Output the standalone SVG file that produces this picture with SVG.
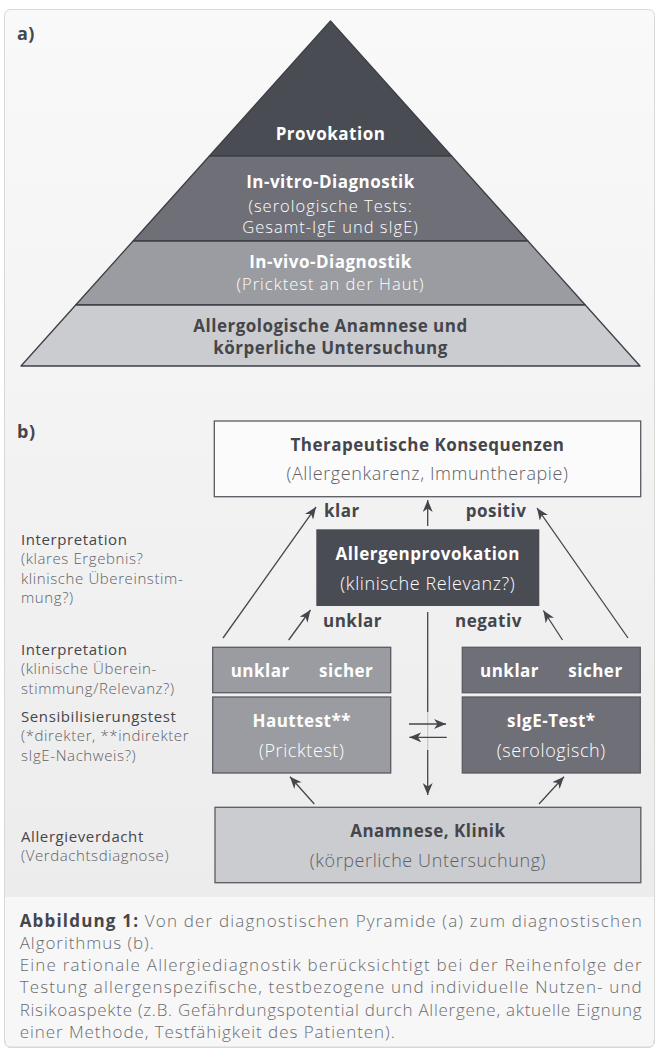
<svg xmlns="http://www.w3.org/2000/svg" width="658" height="1054" viewBox="0 0 658 1054">
<defs>
<linearGradient id="bg" x1="0" y1="0" x2="0" y2="1">
<stop offset="0" stop-color="#f9f9f9"/>
<stop offset="1" stop-color="#eaeaea"/>
</linearGradient>
<marker id="ah" viewBox="0 0 12 10" refX="12" refY="5" markerWidth="12" markerHeight="10" markerUnits="userSpaceOnUse" orient="auto">
<path d="M0,0 L12,5 L0,10 L3.5,5 z" fill="#45464c"/>
</marker>
<style>
text{font-family:"Open Sans","Liberation Sans",sans-serif;}
.b{font-weight:700;letter-spacing:0.5px;}
.l{font-weight:300;}
.w{fill:#ffffff;}
.d{fill:#45464c;}
.g{fill:#5f6066;}
.c{text-anchor:middle;font-size:17px;}
.c.l{font-size:18px;letter-spacing:0.6px;}
.c.l.p{font-size:16.5px;letter-spacing:1px;}
.lab{font-size:15px;letter-spacing:0.6px;}
.lab .d{font-weight:400;letter-spacing:0.6px;}
.cap{font-size:17px;fill:#6a6b70;font-weight:300;}
.lay{stroke:#3e3f46;stroke-width:1.3;stroke-linejoin:round;}
.box{stroke:#5a5b62;stroke-width:1.3;}
.cn{stroke:#45464c;stroke-width:1.3;fill:none;}
</style>
</defs>
<rect x="0" y="0" width="658" height="1054" fill="#ffffff"/>
<rect x="4.5" y="9.5" width="650" height="1038" rx="6" fill="url(#bg)" stroke="#d8d8d8" stroke-width="1"/>
<rect x="5" y="897" width="649" height="150" fill="#f7f7f7"/>
<path d="M5,1040 L5,1041 Q5,1047 11,1047 L648,1047 Q654,1047 654,1041 L654,1040" fill="#f7f7f7" stroke="#d8d8d8" stroke-width="1"/>

<text x="17" y="40" class="b d" font-size="18">a)</text>

<g id="pyramid">
<g id="layer-provokation">
<polygon class="lay" points="330.5,21 451.6,156 209.4,156" fill="#4a4c54"/>
<text x="330.5" y="140" class="c b w">Provokation</text>
</g>
<g id="layer-invitro">
<polygon class="lay" points="209.4,156 451.6,156 527.9,241 133.1,241" fill="#6f6f78"/>
<text x="330.5" y="188" class="c b w">In-vitro-Diagnostik</text>
<text x="330.5" y="212" class="c l p w">(serologische Tests:</text>
<text x="330.5" y="233" class="c l p w">Gesamt-IgE und sIgE)</text>
</g>
<g id="layer-invivo">
<polygon class="lay" points="133.1,241 527.9,241 585.3,305 75.7,305" fill="#9b9ca1"/>
<text x="330.5" y="268" class="c b w">In-vivo-Diagnostik</text>
<text x="330.5" y="290" class="c l p w">(Pricktest an der Haut)</text>
</g>
<g id="layer-anamnese">
<polygon class="lay" points="75.7,305 585.3,305 640,366 21,366" fill="#cbccd0"/>
<text x="330.5" y="332" class="c b d">Allergologische Anamnese und</text>
<text x="330.5" y="354" class="c b d">körperliche Untersuchung</text>
</g>
</g>

<text x="17" y="438" class="b d" font-size="18">b)</text>

<g id="side-labels">
<text class="lab" x="21" y="545"><tspan class="d">Interpretation</tspan><tspan class="g l" x="21" dy="19.3">(klares Ergebnis?</tspan><tspan class="g l" x="21" dy="19.3">klinische Übereinstim-</tspan><tspan class="g l" x="21" dy="19.3">mung?)</tspan></text>
<text class="lab" x="21" y="655"><tspan class="d">Interpretation</tspan><tspan class="g l" x="21" dy="19.3">(klinische Überein-</tspan><tspan class="g l" x="21" dy="19.3">stimmung/Relevanz?)</tspan></text>
<text class="lab" x="21" y="722"><tspan class="d">Sensibilisierungstest</tspan><tspan class="g l" x="21" dy="19.3">(*direkter, **indirekter</tspan><tspan class="g l" x="21" dy="19.3">sIgE-Nachweis?)</tspan></text>
<text class="lab" x="21" y="842"><tspan class="d">Allergieverdacht</tspan><tspan class="g l" x="21" dy="18.5">(Verdachtsdiagnose)</tspan></text>
</g>

<g id="connectors">
<line class="cn" x1="223" y1="638" x2="316" y2="507" marker-end="url(#ah)"/>
<line class="cn" x1="427.7" y1="526" x2="427.7" y2="500" marker-end="url(#ah)"/>
<line class="cn" x1="628" y1="638" x2="537" y2="508" marker-end="url(#ah)"/>
<line class="cn" x1="288.7" y1="640" x2="310.5" y2="610" marker-end="url(#ah)"/>
<line class="cn" x1="562.5" y1="640" x2="543.4" y2="610.5" marker-end="url(#ah)"/>
<line class="cn" x1="427.7" y1="612" x2="427.7" y2="795" marker-end="url(#ah)"/>
<rect x="425.7" y="712" width="4" height="38" fill="#f3f3f3" opacity="0.75"/>
<line class="cn" x1="409" y1="724" x2="446" y2="724" marker-end="url(#ah)"/>
<line class="cn" x1="446.7" y1="737.3" x2="409.3" y2="737.3" marker-end="url(#ah)"/>
<line class="cn" x1="314.3" y1="804" x2="290" y2="776.7" marker-end="url(#ah)"/>
<line class="cn" x1="539" y1="804" x2="564" y2="776.7" marker-end="url(#ah)"/>
<text x="324" y="517.3" class="b d" font-size="17">klar</text>
<text x="465.7" y="517.3" class="b d" font-size="17">positiv</text>
<text x="323" y="626.7" class="b d" font-size="17">unklar</text>
<text x="455" y="626.7" class="b d" font-size="17">negativ</text>
</g>

<g id="therapie">
<rect class="box" x="214.3" y="421" width="426.4" height="75.7" fill="#fbfbfb" stroke="#6b6c72"/>
<text x="427.5" y="450.7" class="c b d">Therapeutische Konsequenzen</text>
<text x="427.5" y="480" class="c l g">(Allergenkarenz, Immuntherapie)</text>
</g>

<g id="provokation">
<rect x="316.3" y="529.3" width="223" height="76.7" fill="#4a4c54"/>
<text x="427.8" y="560" class="c b w">Allergenprovokation</text>
<text x="427.8" y="590" class="c l w">(klinische Relevanz?)</text>
</g>

<g id="interpretation-haut">
<rect class="box" x="212.7" y="647.3" width="178" height="45.4" fill="#9b9ca1"/>
<text x="230.7" y="677.3" class="b w" font-size="17">unklar</text>
<text x="319" y="677.3" class="b w" font-size="17">sicher</text>
</g>

<g id="hauttest">
<rect class="box" x="212.7" y="697" width="178" height="76" fill="#9b9ca1"/>
<text x="301.7" y="726.7" class="c b w">Hauttest**</text>
<text x="301.7" y="756.7" class="c l w">(Pricktest)</text>
</g>

<g id="interpretation-sige">
<rect class="box" x="462.3" y="647.3" width="178" height="45.4" fill="#6f6f78"/>
<text x="480" y="677.3" class="b w" font-size="17">unklar</text>
<text x="568.3" y="677.3" class="b w" font-size="17">sicher</text>
</g>

<g id="sige-test">
<rect class="box" x="462.3" y="697" width="178" height="76" fill="#6f6f78"/>
<text x="551.3" y="726.7" class="c b w">sIgE-Test*</text>
<text x="551.3" y="756.7" class="c l w">(serologisch)</text>
</g>

<g id="anamnese">
<rect class="box" x="215" y="807.3" width="425.8" height="75.4" fill="#cbccd0"/>
<text x="427.9" y="836.7" class="c b d">Anamnese, Klinik</text>
<text x="427.9" y="867.3" class="c l g">(körperliche Untersuchung)</text>
</g>

<g id="caption">
<text class="cap" x="19.7" y="926.5" textLength="622" lengthAdjust="spacing"><tspan class="d" font-weight="700">Abbildung 1:</tspan> Von der diagnostischen Pyramide (a) zum diagnostischen</text>
<text class="cap" x="19.7" y="948.8" textLength="134" lengthAdjust="spacing">Algorithmus (b).</text>
<text class="cap" x="19.7" y="971" textLength="622" lengthAdjust="spacing">Eine rationale Allergiediagnostik berücksichtigt bei der Reihenfolge der</text>
<text class="cap" x="19.7" y="993.3" textLength="622" lengthAdjust="spacing">Testung allergenspezifische, testbezogene und individuelle Nutzen- und</text>
<text class="cap" x="19.7" y="1015.6" textLength="622" lengthAdjust="spacing">Risikoaspekte (z.B. Gefährdungspotential durch Allergene, aktuelle Eignung</text>
<text class="cap" x="19.7" y="1038" textLength="375" lengthAdjust="spacing">einer Methode, Testfähigkeit des Patienten).</text>
</g>
</svg>
